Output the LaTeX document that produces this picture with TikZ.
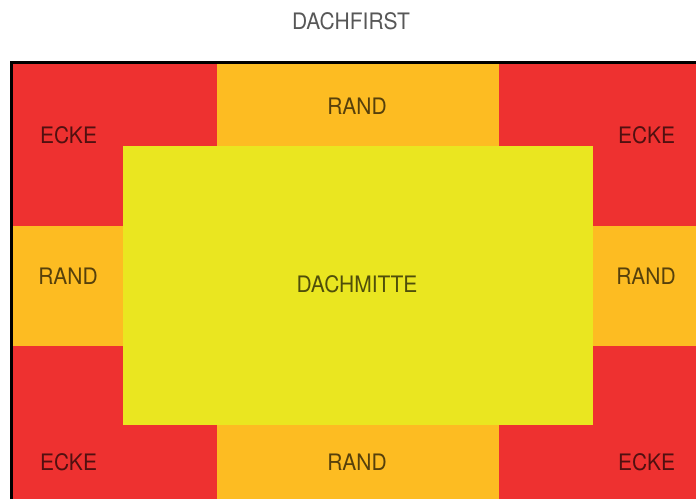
\documentclass[tikz,border=0pt]{standalone}
\usepackage{fontspec}
\usepackage{graphicx}
\setmainfont{TeX Gyre Heros}
\definecolor{ecke}{HTML}{EE3130}
\definecolor{rand}{HTML}{FDBC22}
\definecolor{mitte}{HTML}{EAE620}
\newcommand{\tallbox}[1]{\scalebox{1}[1.08]{#1}}
\tikzset{
  lbl/.style={font=\fontsize{21}{21}\selectfont, text=black, text opacity=0.66, inner sep=0pt, anchor=center},
  frame/.style={line width=2.4pt, draw=black}
}
\begin{document}
\begin{tikzpicture}[x=1pt,y=-1pt]
\useasboundingbox (0,0) rectangle (696,499);
% zones
\fill[ecke] (12.5,63.5) rectangle (696,499);
\fill[rand] (217,63.5) rectangle (499,146);
\fill[rand] (217,425) rectangle (499,499);
\fill[rand] (12.5,226) rectangle (123,346);
\fill[rand] (593,226) rectangle (696,346);
\fill[mitte] (123,146) rectangle (593,425);
% frame
\draw[frame] (11.5,499) -- (11.5,62.3) -- (696,62.3);
% labels
\node[lbl] (first) at (351,21) {\tallbox{DACHFIRST}};
\node[lbl] (mitte) at (357,284.5) {\tallbox{DACHMITTE}};
\node[lbl] (ecke1) at (68.5,135.5) {\tallbox{ECKE}};
\node[lbl] (ecke2) at (646.7,135.5) {\tallbox{ECKE}};
\node[lbl] (ecke3) at (68.5,462) {\tallbox{ECKE}};
\node[lbl] (ecke4) at (646.7,462) {\tallbox{ECKE}};
\node[lbl] (rand1) at (357,106) {\tallbox{RAND}};
\node[lbl] (rand2) at (357,462) {\tallbox{RAND}};
\node[lbl] (rand3) at (68,276.5) {\tallbox{RAND}};
\node[lbl] (rand4) at (646,276.5) {\tallbox{RAND}};
\end{tikzpicture}
\end{document}
